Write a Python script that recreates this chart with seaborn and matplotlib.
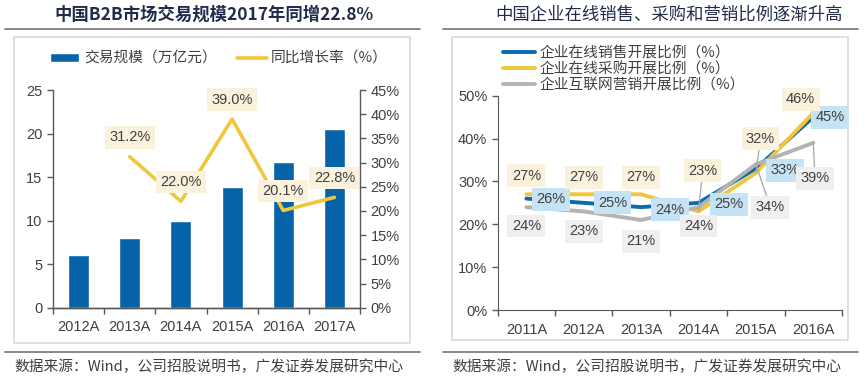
import numpy as np
import pandas as pd
import seaborn as sns
import matplotlib.pyplot as plt
from matplotlib.lines import Line2D
from matplotlib.patches import Rectangle
from matplotlib.ticker import FuncFormatter, FixedLocator

# left chart: B2B market size + yoy growth
years_l = ['2012A', '2013A', '2014A', '2015A', '2016A', '2017A']
size_l = [6.0, 8.0, 10.0, 13.9, 16.7, 20.5]          # 万亿元
growth_l = [np.nan, 31.2, 22.0, 39.0, 20.1, 22.8]   # %

# right chart: online sales / purchasing / marketing ratio
years_r = ['2011A', '2012A', '2013A', '2014A', '2015A', '2016A']
sales_r = [26, 25, 24, 25, 33, 45]
purchase_r = [27, 27, 27, 23, 32, 46]
marketing_r = [24, 23, 21, 24, 34, 39]

names_r = ['企业在线销售开展比例（%）', '企业在线采购开展比例（%）', '企业互联网营销开展比例（%）']

sns.set_style('ticks')
plt.rcParams['font.family'] = ['Liberation Sans', 'Noto Sans CJK SC', 'DejaVu Sans']
CJK = ['Noto Sans CJK SC', 'Liberation Sans', 'DejaVu Sans']

BLUE = '#0763A8'
BLUE_L = '#0A6BB0'
YELLOW = '#F0C63C'
GRAY = '#B3B3B3'
TXT = '#404040'
AX = '#595959'

fig = plt.figure(figsize=(8.64, 3.83), dpi=100)
fig.patch.set_facecolor('white')


def px(x, y):
    return x / 864, 1 - y / 383


# frames, title rules, footers
for x0, x1, y0, y1 in [(14, 410, 37, 343), (452, 848, 37, 340)]:
    fig.add_artist(Rectangle(px(x0, y1), (x1 - x0) / 864, (y1 - y0) / 383,
                             transform=fig.transFigure, fc='white', ec='#D9D9D9', lw=1.2, zorder=0))
for x0, x1 in [(5, 420), (443, 858)]:
    for yy in (29, 352):
        fig.add_artist(Line2D([x0 / 864, x1 / 864], [1 - yy / 383] * 2, transform=fig.transFigure,
                              color='#7F7F7F', lw=1.3))
    fig.text((x0 + 9) / 864, 1 - 367 / 383, '数据来源：Wind，公司招股说明书，广发证券发展研究中心',
             family=CJK, fontsize=10.6, color=TXT, va='center', ha='left')

fig.text(*px(214, 15), '中国B2B市场交易规模2017年同增22.8%', family=CJK, fontsize=12.5,
         fontweight='bold', color='#222B4C', ha='center', va='center')
fig.text(*px(669, 15), '中国企业在线销售、采购和营销比例逐渐升高', family=CJK, fontsize=12.5,
         color='#222B4C', ha='center', va='center')

# ---------------- left chart ----------------
ax = fig.add_axes([53 / 864, 75.3 / 383, 307 / 864, 217.7 / 383])
df_l = pd.DataFrame({'year': years_l, 'size': size_l, 'growth': growth_l})
sns.barplot(data=df_l, x='year', y='size', color=BLUE, width=0.41, saturation=1,
            label='交易规模（万亿元）', ax=ax)
ax.set_xlim(-0.5, 5.5)
ax.set_ylim(0, 25)
ax.set_yticks(range(0, 26, 5))
ax.set_xlabel('')
ax.set_ylabel('')

ax2 = ax.twinx()
sns.lineplot(x=np.arange(len(years_l)), y=df_l['growth'], color=YELLOW, lw=2.6,
             label='同比增长率（%）', ax=ax2)
ax2.set_ylim(0, 45)
ax2.set_yticks(range(0, 46, 5))
ax2.yaxis.set_major_formatter(FuncFormatter(lambda v, p: f'{v:.0f}%'))
ax2.set_ylabel('')
for lg in (ax.get_legend(), ax2.get_legend()):
    if lg is not None:
        lg.remove()

for i, g in enumerate(growth_l):
    if np.isnan(g):
        continue
    ax2.text(i, g + 4.0, f'{g:.1f}%', ha='center', va='center', fontsize=10.5, color=TXT, zorder=5,
             bbox=dict(boxstyle='square,pad=0.3', fc='#FAF2DC', ec='none'))

for a in (ax, ax2):
    a.spines['top'].set_visible(False)
    for s in ('left', 'right', 'bottom'):
        a.spines[s].set_color(AX)
        a.spines[s].set_linewidth(1.0)
    a.tick_params(axis='y', colors=AX, labelcolor=TXT, labelsize=10.5, length=4, width=1)
ax2.spines['left'].set_visible(False)
ax.spines['right'].set_visible(False)
ax.tick_params(axis='x', which='major', length=0, labelsize=10.5, labelcolor=TXT, pad=9)
ax.xaxis.set_minor_locator(FixedLocator(np.arange(-0.5, 6, 1)))
ax.tick_params(axis='x', which='minor', length=4, width=1, color=AX)

h1, l1 = ax.get_legend_handles_labels()
h2, l2 = ax2.get_legend_handles_labels()
fig.legend(h1 + h2, l1 + l2, loc='center left', bbox_to_anchor=px(50, 59), ncol=2, frameon=False,
           prop={'family': CJK, 'size': 10.6}, handlelength=2.0, handleheight=0.55,
           handletextpad=0.3, columnspacing=1.4, borderpad=0, borderaxespad=0, labelcolor=TXT)

# ---------------- right chart ----------------
axr = fig.add_axes([497.7 / 864, 73 / 383, 344.3 / 864, 214.3 / 383])
df_r = pd.DataFrame({
    'year': years_r * 3,
    'x': list(range(len(years_r))) * 3,
    'val': sales_r + purchase_r + marketing_r,
    'series': [names_r[0]] * 6 + [names_r[1]] * 6 + [names_r[2]] * 6,
})
pal = {names_r[0]: BLUE_L, names_r[1]: YELLOW, names_r[2]: GRAY}
sns.lineplot(data=df_r, x='x', y='val', hue='series', hue_order=names_r, palette=pal,
             lw=2.8, ax=axr)
axr.set_xlim(-0.5, 5.5)
axr.set_ylim(0, 50)
axr.set_yticks(range(0, 51, 10))
axr.yaxis.set_major_formatter(FuncFormatter(lambda v, p: f'{v:.0f}%'))
axr.set_xticks(range(len(years_r)))
axr.set_xticklabels(years_r)
axr.set_xlabel('')
axr.set_ylabel('')
hr, lr = axr.get_legend_handles_labels()
axr.get_legend().remove()
fig.legend(hr, lr, loc='center left', bbox_to_anchor=px(503, 69.5), frameon=False,
           prop={'family': CJK, 'size': 10.6}, handlelength=2.2, handletextpad=0.3,
           labelspacing=0.12, borderpad=0, borderaxespad=0, labelcolor=TXT)
for l in fig.legends[-1].get_lines():
    l.set_linewidth(2.8)

for s in ('top', 'right'):
    axr.spines[s].set_visible(False)
for s in ('left', 'bottom'):
    axr.spines[s].set_color(AX)
axr.tick_params(axis='y', colors=AX, labelcolor=TXT, labelsize=10.5, length=4, width=1)
axr.tick_params(axis='x', which='major', length=0, labelsize=10.5, labelcolor=TXT, pad=9)
axr.xaxis.set_minor_locator(FixedLocator(np.arange(-0.5, 6, 1)))
axr.tick_params(axis='x', which='minor', length=4, width=1, color=AX)

# data labels (offsets are layout only)
lab_specs = [
    (sales_r, '#C6E2F5', [0.43, 0.5, 0.5, 0.53, 0.5, 0.29], [-0.2, 0, -0.6, -0.3, -0.4, 0]),
    (purchase_r, '#FAF2DC', [0, 0, 0, 0.07, 0.08, -0.22], [4.3, 4.0, 4.0, 9.5, 8.0, 3.2]),
    (marketing_r, '#EFEFEF', [0, 0, 0, 0, 0.25, 0.03], [-4.4, -4.6, -5.0, -4.4, -10.0, -8.3]),
]
leaders = {(1, 3), (1, 4), (2, 4), (2, 5)}
for k, (vals, fc, dxs, dys) in enumerate(lab_specs):
    for i, v in enumerate(vals):
        pos = (i + dxs[i], v + dys[i])
        if (k, i) in leaders:
            axr.annotate('', xy=(i, v), xytext=pos, zorder=4,
                         arrowprops=dict(arrowstyle='-', color='#A6A6A6', lw=0.9, shrinkA=8, shrinkB=0))
        axr.text(*pos, f'{v}%', ha='center', va='center', fontsize=10.5, color=TXT, zorder=5,
                 bbox=dict(boxstyle='square,pad=0.3', fc=fc, ec='none'))

plt.savefig('out.png', dpi=100, facecolor='white')
